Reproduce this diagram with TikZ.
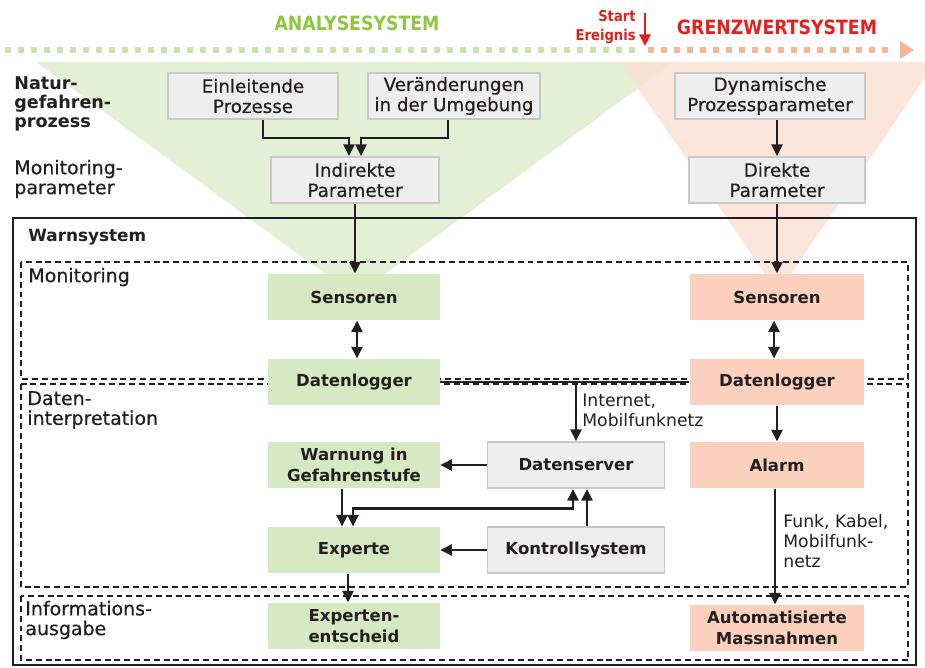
\documentclass[tikz,border=0pt]{standalone}
\usepackage{fontspec}
\setmainfont{DejaVu Sans}
\newfontfamily\midfont[FakeBold=0.5]{DejaVu Sans}
\newfontfamily\narrowfont[FakeStretch=0.88]{DejaVu Sans}
\usetikzlibrary{arrows.meta}
\definecolor{ink}      {HTML}{231F20}
\definecolor{analyse}  {HTML}{8DC63F}
\definecolor{grenz}    {HTML}{E2211C}
\definecolor{greenfan} {HTML}{E4F0D6}
\definecolor{peachfan} {HTML}{FCE0D3}
\definecolor{greendot} {HTML}{C9E2AE}
\definecolor{peachdot} {HTML}{F5B597}
\definecolor{leaf}     {HTML}{D7E9C2}
\definecolor{peach}    {HTML}{FBD1BE}
\definecolor{panel}    {HTML}{EEEEEE}
\definecolor{rim}      {HTML}{C8C8C8}

\begin{document}
\begin{tikzpicture}[x=0.02cm, y=-0.02cm,
    lbl/.style={font=\midfont\fontsize{10.8}{11.3}\selectfont, text=ink, align=left, anchor=west, inner sep=0},
    lblbold/.style={lbl, font=\fontsize{9.6}{11}\selectfont\bfseries},
    notelbl/.style={lbl, font=\fontsize{9.8}{11.3}\selectfont},
    cell/.style={minimum width=3.44cm, minimum height=0.93cm, align=center, inner sep=0, text=ink,
                 font=\fontsize{9.4}{11.8}\selectfont\bfseries},
    graycell/.style={cell, fill=panel, draw=rim, line width=0.9pt, font=\midfont\fontsize{10.4}{11.5}\selectfont},
    servcell/.style={cell, fill=panel, draw=rim, line width=0.9pt},
    greencell/.style={cell, fill=leaf},
    peachcell/.style={cell, fill=peach, minimum width=3.5cm},
    link/.style={draw=ink, line width=1.4pt, -{Triangle[length=2.3mm,width=2.2mm]}},
    duolink/.style={link, {Triangle[length=2.3mm,width=2.2mm]}-{Triangle[length=2.3mm,width=2.2mm]}},
    zone/.style={draw=ink, line width=0.8pt, dash pattern=on 3.4pt off 2.2pt}]
    \fill[greenfan] (36,62) -- (674,62) -- (355,296) -- cycle;
    \fill[peachfan, fill opacity=0.85] (620,62) -- (925,62) -- (925,78) -- (778,293) -- cycle;
    \foreach \x in {5,18,...,640}
      {\fill[greendot] (\x,47) rectangle ++(6,6);}
    \foreach \x in {648,661,...,890}
      {\fill[peachdot] (\x,47) rectangle ++(6,6);}
    \fill[peachdot] (900,41) -- (914,50) -- (900,59) -- cycle;
    \node[font=\narrowfont\fontsize{11.2}{12}\selectfont\bfseries, text=analyse] (ana) at (357,23) {ANALYSESYSTEM};
    \node[font=\narrowfont\fontsize{11.2}{12}\selectfont\bfseries, text=grenz] (gre) at (777,27) {GRENZWERTSYSTEM};
    \node[font=\narrowfont\fontsize{8.5}{10.8}\selectfont\bfseries, text=grenz, align=right, anchor=east, inner sep=0]
      (evt) at (636,27) {Start\\Ereignis};
    \coordinate (evtop) at (645,13);
    \coordinate (evbot) at (645,46);
    \draw[grenz, line width=1.3pt, -{Triangle[length=2.3mm,width=2.2mm]}] (evtop) -- (evbot);
    \node[lblbold, font=\fontsize{10}{10.6}\selectfont\bfseries] (natur) at (14,104) {Natur-\\gefahren-\\prozess};
    \node[lbl] (monpar) at (14,179) {Monitoring-\\parameter};
    \draw[ink, line width=1.1pt] (13,218) rectangle (916,665);
    \node[lblbold] (warn) at (28,237) {Warnsystem};
    \draw[zone] (21,262) rectangle (908,379);
    \draw[zone] (21,384) rectangle (908,587);
    \draw[zone] (21,596) rectangle (908,660);
    \node[lbl] (zmon) at (28,277) {Monitoring};
    \node[lbl] (zdat) at (27,410) {Daten-\\interpretation};
    \node[lbl] (zinf) at (25,620) {Informations-\\ausgabe};
    \node[graycell, minimum width=3.4cm] (einl) at (253,96) {Einleitende\\Prozesse};
    \node[graycell] (veraend) at (454,96) {Veränderungen\\in der Umgebung};
    \node[graycell, minimum width=3.8cm] (dyn) at (770,96) {Dynamische\\Prozessparameter};
    \node[graycell, minimum width=3.36cm] (indir) at (355,180) {Indirekte\\Parameter};
    \node[graycell, minimum width=3.52cm] (direkt) at (777,180) {Direkte\\Parameter};
    \node[greencell] (gsens) at (354,297) {Sensoren};
    \node[greencell] (glog) at (354,382) {Datenlogger};
    \node[greencell] (alert) at (354,465) {Warnung in\\Gefahrenstufe};
    \node[greencell] (expert) at (354,550) {Experte};
    \node[greencell] (decide) at (354,626) {Experten-\\entscheid};
    \node[servcell, minimum width=3.54cm] (server) at (576,465) {Datenserver};
    \node[servcell, minimum width=3.54cm] (kontroll) at (576,550) {Kontrollsystem};
    \node[peachcell] (rsens) at (777,297) {Sensoren};
    \node[peachcell] (rlog) at (777,382) {Datenlogger};
    \node[peachcell] (alarm) at (777,465) {Alarm};
    \node[peachcell] (auto) at (777,628) {Automatisierte\\Massnahmen};
    \draw[link] ([xshift=2mm]einl.south) -- ++(0,18) -| ([xshift=-1.2mm]indir.north);
    \draw[link] ([xshift=-1.2mm]veraend.south) -- ++(0,18) -| ([xshift=1.2mm]indir.north);
    \draw[link] (indir.south) -- (indir.south |- gsens.north);
    \draw[duolink] ([xshift=0.6mm]gsens.south) -- ([xshift=0.6mm]glog.north);
    \draw[link] (dyn.south -| direkt.north) -- (direkt.north);
    \draw[link] (direkt) -- (rsens);
    \draw[duolink] ([xshift=-0.6mm]rsens.south) -- ([xshift=-0.6mm]rlog.north);
    \draw[ink, line width=1.4pt] (glog.east) -- (rlog.west);
    \coordinate (tap) at (576,382);
    \draw[link] (tap) -- (server);
    \node[notelbl] (net) at (582,410) {Internet,\\Mobilfunknetz};
    \draw[link] (rlog) -- (alarm);
    \draw[link] (server) -- (alert);
    \draw[link] (kontroll) -- (expert);
    \draw[link] ([xshift=2.2mm]kontroll.north) -- ([xshift=2.2mm]server.south);
    \draw[link] ([xshift=-2.4mm]alert.south) -- ([xshift=-2.4mm]expert.north);
    \draw[duolink] ([xshift=-0.2mm]expert.north) -- ++(0,-18) -| ([xshift=-0.6mm]server.south);
    \draw[link] ([xshift=-1.2mm]expert.south) -- ([xshift=-1.2mm]decide.north);
    \draw[link] ([xshift=-0.4mm]alarm.south) -- ([xshift=-0.4mm]auto.north);
    \node[notelbl] (funk) at (783,541) {Funk, Kabel,\\Mobilfunk-\\netz};
    \useasboundingbox (0,0) rectangle (925,668);
\end{tikzpicture}
\end{document}
